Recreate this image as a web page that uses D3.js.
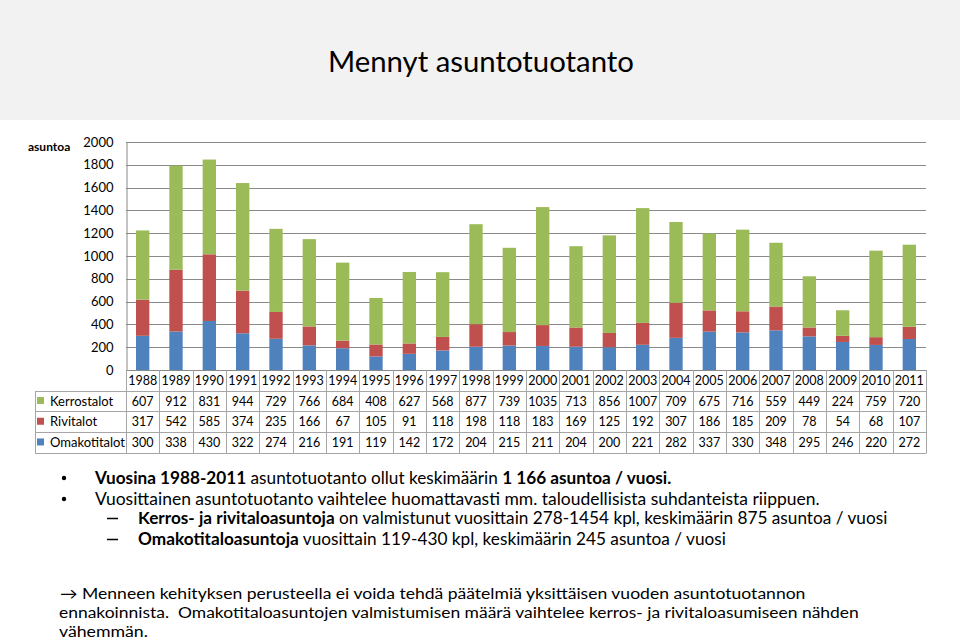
<!DOCTYPE html>
<html>
<head>
<meta charset="utf-8">
<script src="https://cdn.jsdelivr.net/npm/d3@7"></script>
<style>
  body { margin: 0; background: #fff; }
  svg { display: block; font-family: Lato, "Open Sans", sans-serif; }
</style>
</head>
<body>
<svg id="chart" width="960" height="642"></svg>
<script>
var years = ["1988","1989","1990","1991","1992","1993","1994","1995","1996","1997","1998","1999",
             "2000","2001","2002","2003","2004","2005","2006","2007","2008","2009","2010","2011"];
var kerrostalot = [607,912,831,944,729,766,684,408,627,568,877,739,1035,713,856,1007,709,675,716,559,449,224,759,720];
var rivitalot = [317,542,585,374,235,166,67,105,91,118,198,118,183,169,125,192,307,186,185,209,78,54,68,107];
var omakotitalot = [300,338,430,322,274,216,191,119,142,172,204,215,211,204,200,221,282,337,330,348,295,246,220,272];
var seriesNames = ["Kerrostalot","Rivitalot","Omakotitalot"];
var yTicks = [0,200,400,600,800,1000,1200,1400,1600,1800,2000];

var colors = {Kerrostalot:"#9BBB59", Rivitalot:"#C0504D", Omakotitalot:"#4F81BD"};
var values = {Kerrostalot:kerrostalot, Rivitalot:rivitalot, Omakotitalot:omakotitalot};

var svg = d3.select("#chart");

function fit(sel, x0, width){
  var w = sel.node().getComputedTextLength();
  sel.attr("transform","translate(" + x0 + ",0) scale(" + (width/w) + ",1)");
}

// header band
svg.append("rect").attr("x",0).attr("y",0).attr("width",960).attr("height",120).attr("fill","#f2f2f2");
var title = svg.append("text").attr("x",0).attr("y",72).style("font-size","29px").text("Mennyt asuntotuotanto");
fit(title, 328, 306);

var plot = {left:126, right:926, top:142, bottom:370};
var x = d3.scaleBand().domain(years).range([plot.left, plot.right]).padding(0);
var y = d3.scaleLinear().domain([0,2000]).range([plot.bottom, plot.top]);

// gridlines
svg.append("g").selectAll("line").data(yTicks).enter().append("line")
  .attr("x1",plot.left).attr("x2",plot.right)
  .attr("y1",function(d){return Math.round(y(d))+0.5;})
  .attr("y2",function(d){return Math.round(y(d))+0.5;})
  .attr("stroke","#8a8a8a").attr("stroke-width",1);

// y axis
var yAxis = svg.append("g").attr("transform","translate(" + (plot.left+0.5) + ",0)")
  .call(d3.axisLeft(y).tickValues(yTicks).tickFormat(d3.format("d")).tickSize(0).tickPadding(13));
yAxis.select(".domain").attr("stroke","#8a8a8a");
yAxis.selectAll("text").style("font-family","Lato, sans-serif").style("font-size","13px").attr("fill","#000");

svg.append("text").attr("x",28).attr("y",151).style("font-size","12px").style("font-weight","bold").text("asuntoa");

// stacked bars
var rows = years.map(function(yr,i){
  return {year:yr, Omakotitalot:omakotitalot[i], Rivitalot:rivitalot[i], Kerrostalot:kerrostalot[i]};
});
var stack = d3.stack().keys(["Omakotitalot","Rivitalot","Kerrostalot"])(rows);
var barW = x.bandwidth()*0.4;
svg.append("g").selectAll("g").data(stack).enter().append("g")
  .attr("fill",function(d){return colors[d.key];})
  .selectAll("rect").data(function(d){return d;}).enter().append("rect")
  .attr("x",function(d){return x(d.data.year) + (x.bandwidth()-barW)/2;})
  .attr("width",barW)
  .attr("y",function(d){return y(d[1]);})
  .attr("height",function(d){return y(d[0]) - y(d[1]);});

// data table
var rowH = 20.7;
var tTop = plot.bottom, tLeft = 35;
var tb = svg.append("g").attr("stroke","#a6a6a6").attr("stroke-width",1);
[0,1,2,3].forEach(function(r){
  var yy = Math.round(tTop + rowH*(r+1)) + 0.5;
  tb.append("line").attr("x1",tLeft).attr("x2",plot.right).attr("y1",yy).attr("y2",yy);
});
var tBottom = Math.round(tTop + rowH*4) + 0.5;
years.concat(["end"]).forEach(function(yr){
  var xx = yr === "end" ? plot.right : x(yr);
  xx = Math.round(xx) + 0.5;
  tb.append("line").attr("x1",xx).attr("x2",xx).attr("y1",tTop).attr("y2",tBottom);
});
tb.append("line").attr("x1",tLeft+0.5).attr("x2",tLeft+0.5).attr("y1",Math.round(tTop+rowH)+0.5).attr("y2",tBottom);

var cellFont = "12.5px";
svg.append("g").selectAll("text").data(years).enter().append("text")
  .attr("x",function(d){return x(d)+x.bandwidth()/2;})
  .attr("y",tTop + rowH/2 + 4.5)
  .attr("text-anchor","middle").style("font-size",cellFont).text(function(d){return d;});

seriesNames.forEach(function(name, r){
  var cy = tTop + rowH*(r+1) + rowH/2;
  svg.append("rect").attr("x",37).attr("y",cy-4).attr("width",7).attr("height",7).attr("fill",colors[name]);
  svg.append("text").attr("x",50).attr("y",cy+4.5).style("font-size","13px").text(name);
  svg.append("g").selectAll("text").data(values[name]).enter().append("text")
    .attr("x",function(d,i){return x(years[i])+x.bandwidth()/2;})
    .attr("y",cy+4.5)
    .attr("text-anchor","middle").style("font-size",cellFont).text(function(d){return d;});
});

// notes
function line(parts, x0, yb, width, size){
  var t = svg.append("text").attr("x",0).attr("y",yb).style("font-size",(size||17)+"px").attr("xml:space","preserve");
  parts.forEach(function(p){
    t.append("tspan").style("font-weight",p[1]?"bold":"normal").text(p[0]);
  });
  fit(t, x0, width);
}
function bullet(x0, yb){
  svg.append("circle").attr("cx",x0).attr("cy",yb-6).attr("r",2.2).attr("fill","#000");
}
bullet(64, 484);
line([["Vuosina 1988-2011",1],[" asuntotuotanto ollut keskimäärin ",0],["1 166 asuntoa / vuosi.",1]], 95, 484, 577);
bullet(64, 505);
line([["Vuosittainen asuntotuotanto vaihtelee huomattavasti mm. taloudellisista suhdanteista riippuen.",0]], 95, 505, 725);
svg.append("line").attr("x1",107).attr("x2",118).attr("y1",518.5).attr("y2",518.5).attr("stroke","#000").attr("stroke-width",1.5);
line([["Kerros- ja rivitaloasuntoja",1],[" on valmistunut vuosittain 278-1454 kpl, keskimäärin 875 asuntoa / vuosi",0]], 138, 524, 750);
svg.append("line").attr("x1",107).attr("x2",118).attr("y1",539.5).attr("y2",539.5).attr("stroke","#000").attr("stroke-width",1.5);
line([["Omakotitaloasuntoja",1],[" vuosittain 119-430 kpl, keskimäärin 245 asuntoa / vuosi",0]], 138, 545, 588);

line([["\u2192 Menneen kehityksen perusteella ei voida tehdä päätelmiä yksittäisen vuoden asuntotuotannon",0]], 60, 599, 746, 15.5);
line([["ennakoinnista.  Omakotitaloasuntojen valmistumisen määrä vaihtelee kerros- ja rivitaloasumiseen nähden",0]], 59, 618, 800, 15.5);
line([["vähemmän.",0]], 59, 637, 89, 15.5);
</script>
</body>
</html>
